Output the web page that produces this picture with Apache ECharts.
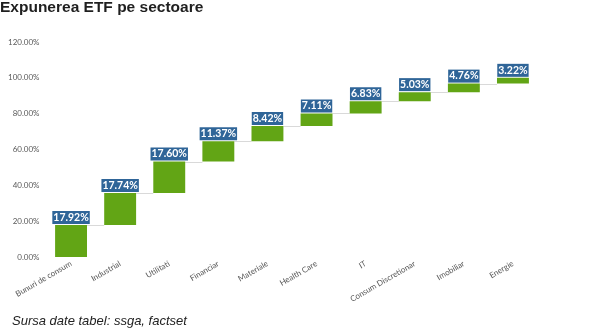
<!DOCTYPE html>
<html>
<head>
<meta charset="utf-8">
<style>
  html, body { margin: 0; padding: 0; background: #fff; }
  #chart { width: 600px; height: 329px; }
</style>
<script src="https://cdn.jsdelivr.net/npm/echarts@6/dist/echarts.min.js"></script>
</head>
<body>
<div id="chart"></div>
<script>
// Sector weights of the ETF (percent)
const categories = ['Bunuri de consum', 'Industrial', 'Utilitati', 'Financiar', 'Materiale',
  'Health Care', 'IT', 'Consum Discretionar', 'Imobiliar', 'Energie'];
const weights = [17.92, 17.74, 17.60, 11.37, 8.42, 7.11, 6.83, 5.03, 4.76, 3.22];
const yTicks = [0, 20, 40, 60, 80, 100, 120];

// Running totals: each bar starts where the previous one ended
const bases = [];
const tops = [];
let running = 0;
weights.forEach(function (w) {
  bases.push(+running.toFixed(2));
  running += w;
  tops.push(+running.toFixed(2));
});

const chart = echarts.init(document.getElementById('chart'));
chart.setOption({
  animation: false,
  title: {
    text: 'Expunerea ETF pe sectoare',
    left: 0, top: 0, padding: 0,
    textStyle: { fontFamily: 'Liberation Sans', fontWeight: 'bold', fontSize: 15.5, color: '#1f1f1f' }
  },
  graphic: [{
    type: 'text', left: 12, top: 315,
    style: { text: 'Sursa date tabel: ssga, factset', font: 'italic 13px "Liberation Sans"', fill: '#222' }
  }],
  grid: { left: 46.5, right: 62.5, top: 42, bottom: 72 },
  xAxis: {
    type: 'category',
    data: categories,
    axisLine: { show: false },
    axisTick: { show: false },
    axisLabel: {
      interval: 0, rotate: 30, margin: 6,
      fontFamily: 'Lato', fontSize: 8, color: '#595959'
    }
  },
  yAxis: {
    type: 'value',
    min: yTicks[0], max: yTicks[yTicks.length - 1], interval: 20,
    splitLine: { show: false },
    axisLine: { show: false },
    axisTick: { show: false },
    axisLabel: {
      margin: 7, fontFamily: 'Lato', fontSize: 8, color: '#595959',
      formatter: function (v) { return v.toFixed(2) + '%'; }
    }
  },
  series: [
    {
      // invisible spacer under each step
      type: 'bar', stack: 'w', barWidth: '65%', silent: true,
      itemStyle: { color: 'transparent' },
      data: bases
    },
    {
      type: 'bar', stack: 'w', barWidth: '65%',
      itemStyle: { color: '#62a515' },
      label: {
        show: true, position: 'top', distance: 1,
        backgroundColor: '#2f6598', color: '#ffffff',
        fontFamily: 'Lato', fontWeight: 'bold', fontSize: 10.5,
        lineHeight: 13, padding: [0, 1],
        formatter: function (p) { return p.value.toFixed(2) + '%'; }
      },
      data: weights
    },
    {
      // thin connectors from one step to the next
      type: 'custom',
      silent: true,
      data: tops.slice(0, -1).map(function (t, i) { return [i, t]; }),
      renderItem: function (params, api) {
        const i = api.value(0);
        const p0 = api.coord([i, api.value(1)]);
        const p1 = api.coord([i + 1, api.value(1)]);
        const half = api.size([1, 0])[0] * 0.65 / 2;
        const y = Math.round(p0[1]) + 0.5;
        return {
          type: 'line',
          shape: { x1: p0[0] + half, y1: y, x2: p1[0] - half, y2: y },
          style: { stroke: '#d9d9d9', lineWidth: 1 }
        };
      },
      z: 1
    }
  ]
});
</script>
</body>
</html>
